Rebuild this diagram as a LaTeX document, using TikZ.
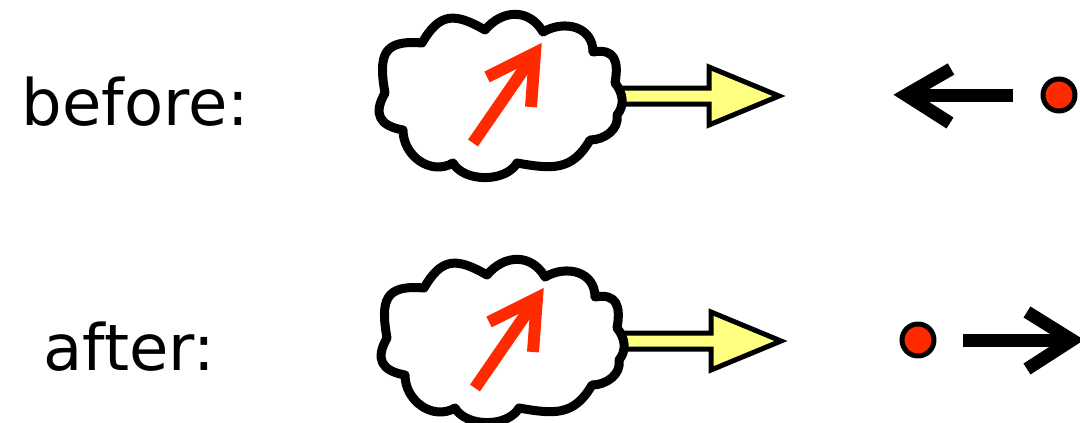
\documentclass[tikz,border=0pt]{standalone}
\usepackage{fontspec}
\setmainfont{DejaVu Sans}
\definecolor{spinred}{RGB}{255,42,0}
\definecolor{beamyellow}{RGB}{255,255,128}

\begin{document}
\begin{tikzpicture}[x=1pt, y=1pt, line join=round,
    cloudline/.style={line width=9pt, fill=white},
    beam/.style={line width=5pt, fill=beamyellow, line join=miter},
    spin/.style={spinred, line width=12pt, line join=miter},
    motion/.style={black, line width=13pt, line join=miter},
    dot/.style={circle, draw, fill=spinred, line width=5pt, inner sep=0pt, minimum size=32pt},
    label/.style={anchor=base west, font=\fontsize{64}{70}\selectfont}]
    \useasboundingbox (0,0) rectangle (1080,-423);

    \foreach \dx/\dy in {0/0, 2/-245} {
    \begin{scope}[shift={(\dx,\dy)}]
        \draw[beam] (600,-88) -- (709,-88) -- (709,-67) -- (779,-96) -- (709,-125) -- (709,-104) -- (600,-104) -- cycle;
        \draw[cloudline] (385,-93) to[out=100,in=175,looseness=1.6] (422,-43)
            to[out=60,in=150,looseness=1.4] (485,-30)
            to[out=50,in=120,looseness=1.2] (543,-32)
            to[out=30,in=90,looseness=1.2] (593,-52)
            to[out=10,in=80,looseness=1.5] (615,-83)
            to[out=-50,in=50] (617,-115)
            to[out=-80,in=0] (590,-140)
            to[out=-120,in=-10,looseness=1.2] (517,-163)
            to[out=-120,in=-60,looseness=0.9] (453,-163)
            to[out=-150,in=-90,looseness=1.1] (403,-130)
            to[out=170,in=-120,looseness=1.5] cycle;
        \draw[spin] (473,-143) -- (535,-53);
        \draw[spin] (487,-77) -- (535,-53) -- (531,-107);
    \end{scope}
    }

    \node[label] (before) at (18,-125) {before:};
    \node[label] (after) at (40,-370) {after:};

    \node[dot] (dotA) at (1059,-95) {};
    \coordinate (tailA) at (1013,-95);
    \coordinate (tipA) at (906,-95);
    \draw[motion] (tailA) -- (tipA);
    \draw[motion] (951,-69) -- (tipA) -- (950,-123);

    \node[dot] (dotB) at (918,-340) {};
    \coordinate (tailB) at (963,-340);
    \coordinate (tipB) at (1072,-340);
    \draw[motion] (tailB) -- (tipB);
    \draw[motion] (1027,-312) -- (tipB) -- (1027,-369);
\end{tikzpicture}
\end{document}
